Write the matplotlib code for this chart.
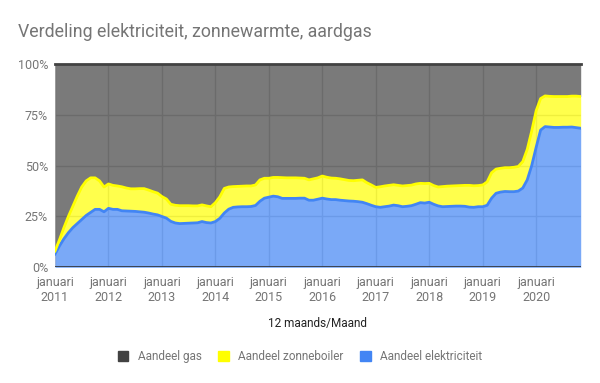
import matplotlib
matplotlib.use("Agg")
import matplotlib.pyplot as plt
import numpy as np
from matplotlib.patches import Patch

plt.rcParams['font.family'] = ['Roboto', 'DejaVu Sans']

# Top of blue stack: share of electricity (%) per month, Jan 2011 .. Nov 2020
elektriciteit = [
    6.5, 10.5, 14, 17, 19.5, 21.5, 23.5, 25.5, 27, 28.5, 28.5, 27.3,
    29, 28.5, 28.5, 27.8, 27.7, 27.6, 27.5, 27.3, 27.1, 26.7, 26.2, 25.8,
    25, 24.2, 22.6, 21.8, 21.5, 21.6, 21.7, 21.8, 21.9, 22.5, 22, 21.8,
    22.5, 24.1, 26.7, 28.6, 29.5, 29.7, 29.8, 29.8, 29.9, 30.4, 32.5, 34,
    34.5, 35, 34.7, 33.9, 33.9, 33.9, 33.9, 34, 34, 33, 33, 33.5,
    34, 33.6, 33.3, 33.3, 33, 32.8, 32.6, 32.5, 32.3, 32, 31.3, 30.5,
    29.8, 29.5, 29.8, 30.1, 30.6, 30.3, 29.8, 30, 30.3, 31, 31.8, 31.6,
    32, 31, 30.2, 29.8, 29.9, 30, 30.1, 30.1, 30, 29.6, 29.5, 29.8,
    29.8, 30.5, 34, 36.4, 37, 37.3, 37.2, 37.2, 37.5, 39, 43, 50,
    59, 67.5, 69.2, 69, 68.8, 68.8, 68.9, 68.9, 69, 68.7, 68.4,
]
# Top of yellow stack: electricity + solar boiler (%)
elek_plus_zon = [
    8, 13.5, 19.5, 25, 30, 35, 39.5, 42.5, 44, 44, 42.5, 39.5,
    41, 40.3, 40, 39.6, 39, 38.6, 38.6, 38.7, 38.7, 38, 37.2, 36.5,
    34.8, 33.6, 31, 30.5, 30.3, 30.3, 30.3, 30.2, 30.2, 30.7, 30.2, 29.8,
    31.8, 34.7, 38.8, 39.5, 39.7, 39.8, 39.9, 40, 40, 40.5, 43, 43.8,
    43.8, 44.2, 44.2, 44.1, 44, 44, 44, 43.9, 43.8, 43, 43.5, 44,
    44.9, 44.3, 43.9, 43.8, 43.5, 43.1, 42.7, 42.6, 42.8, 43, 41.6, 40.5,
    39.3, 39.6, 40, 40.3, 40.6, 40.3, 40, 40.2, 40.4, 41, 41.3, 41.2,
    41.3, 40.2, 39.5, 39.7, 39.9, 40, 40.1, 40.2, 40.3, 40.3, 40.1, 40.2,
    40.5, 42, 46.5, 48.3, 48.7, 49, 49, 49.2, 49.6, 52, 58, 67,
    77, 83, 84.3, 84.1, 84, 84, 84, 84, 84.2, 84.2, 84,
]
jaren = ["2011", "2012", "2013", "2014", "2015", "2016", "2017", "2018", "2019", "2020"]
series_names = ["Aandeel gas", "Aandeel zonneboiler", "Aandeel elektriciteit"]
line_colors = ["#424242", "#ffff00", "#4285f4"]

elek = np.array(elektriciteit)
tot = np.array(elek_plus_zon)
zon = tot - elek
gas = 100 - tot
x = np.arange(len(elek))

fig = plt.figure(figsize=(6.0, 3.83), dpi=100)
ax = fig.add_axes([55/600, 1 - 267.3/383, (580.7 - 55)/600, (267.3 - 64)/383])

# gridlines beneath semi-transparent areas
tick_pos = np.arange(0, len(elek), 12)
for t in tick_pos:
    ax.axvline(t, color="#cccccc", lw=1, zorder=0)
for v in [25, 50, 75]:
    ax.axhline(v, color="#cccccc", lw=1, zorder=0)

alpha = 0.7
ax.fill_between(x, 0, elek, color="#4285f4", alpha=alpha, lw=0, zorder=1)
ax.fill_between(x, elek, elek + zon, color="#ffff00", alpha=alpha, lw=0, zorder=1)
ax.fill_between(x, elek + zon, elek + zon + gas, color="#424242", alpha=alpha, lw=0, zorder=1)
ax.plot(x, elek, color=line_colors[2], lw=2, zorder=3)
ax.plot(x, elek + zon, color=line_colors[1], lw=2, zorder=3)
ax.plot(x, elek + zon + gas, color=line_colors[0], lw=2, zorder=3, clip_on=False)
ax.axhline(0, color="#333333", lw=1.2, zorder=4)

ax.set_xlim(0, len(elek) - 1)
ax.set_ylim(0, 100)
for s in ax.spines.values():
    s.set_visible(False)
ax.set_yticks([0, 25, 50, 75, 100])
ax.set_yticklabels(["0%", "25%", "50%", "75%", "100%"])
ax.set_xticks(tick_pos)
ax.set_xticklabels(["januari\n" + j for j in jaren], linespacing=1.25)
ax.tick_params(length=0, labelsize=9, colors="#757575")
ax.tick_params(axis="x", pad=6)
ax.tick_params(axis="y", pad=5)
ax.set_xlabel("12 maands/Maand", fontsize=8.5, color="#222222", labelpad=9)

fig.text(18/600, 1 - 32/383, "Verdeling elektriciteit, zonnewarmte, aardgas",
         fontsize=12.8, color="#757575", va="center", ha="left")

handles = [Patch(facecolor=c, edgecolor=c) for c in line_colors]
fig.legend(handles, series_names, loc="center", bbox_to_anchor=(0.5, 1 - 356.5/383),
           ncol=3, frameon=False, fontsize=8.5, labelcolor="#757575",
           handlelength=0.9, handleheight=0.9, handletextpad=0.8, columnspacing=1.4)

fig.savefig("out.png", dpi=100)
